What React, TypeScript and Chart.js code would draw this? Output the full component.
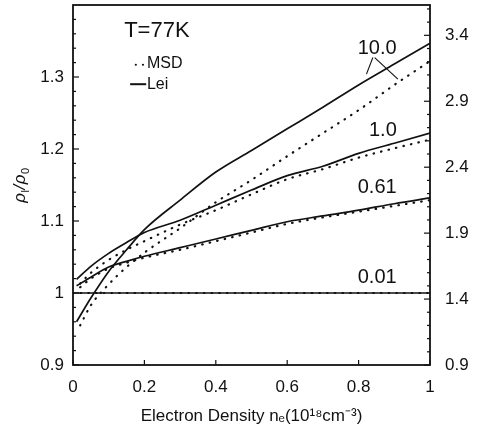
import React, { useEffect, useRef } from 'react';
import { Chart, registerables } from 'chart.js';

Chart.register(...registerables);

// ---- data ----
const X_LEI = [0.01, 0.05, 0.1, 0.15, 0.2, 0.3, 0.4, 0.5, 0.6, 0.7, 0.8, 0.9, 1.0];
const LEI_10 = [0.960, 0.993, 1.030, 1.060, 1.088, 1.129, 1.168, 1.198, 1.228, 1.258, 1.289, 1.318, 1.347];
const LEI_1 = [1.019, 1.037, 1.055, 1.070, 1.084, 1.101, 1.122, 1.143, 1.163, 1.176, 1.194, 1.208, 1.222];
const LEI_061 = [1.010, 1.022, 1.036, 1.044, 1.051, 1.063, 1.075, 1.087, 1.099, 1.107, 1.115, 1.124, 1.132];

const X_MSD = [0.02, 0.05, 0.1, 0.15, 0.2, 0.3, 0.4, 0.5, 0.6, 0.7, 0.8, 0.9, 1.0];
const MSD_10 = [0.955, 0.983, 1.012, 1.036, 1.056, 1.090, 1.126, 1.157, 1.190, 1.222, 1.254, 1.289, 1.322];
const MSD_1 = [1.013, 1.028, 1.046, 1.060, 1.072, 1.095, 1.115, 1.137, 1.158, 1.172, 1.188, 1.201, 1.213];
const MSD_061 = [1.008, 1.020, 1.034, 1.042, 1.049, 1.060, 1.072, 1.084, 1.096, 1.105, 1.113, 1.121, 1.129];

const X_FLAT = [0, 0.5, 1.0];
const LEI_001 = [1.0, 1.0, 1.0];
const MSD_001 = [1.0, 1.0, 1.0];

const X_TICKS = [0, 0.2, 0.4, 0.6, 0.8, 1];
const X_TICK_LABELS = ['0', '0.2', '0.4', '0.6', '0.8', '1'];
const Y_TICKS = [0.9, 1.0, 1.1, 1.2, 1.3];
const Y_TICK_LABELS = ['0.9', '1', '1.1', '1.2', '1.3'];
const Y2_TICKS = [0.9, 1.4, 1.9, 2.4, 2.9, 3.4];
const Y2_TICK_LABELS = ['0.9', '1.4', '1.9', '2.4', '2.9', '3.4'];

const CURVE_LABELS = ['10.0', '1.0', '0.61', '0.01'];
const TEMP_LABEL = 'T=77K';
const LEGEND_LABELS = ['MSD', 'Lei'];

const INK = '#111';
const FONT = '"Liberation Sans", Arial, Helvetica, sans-serif';

export default function App() {
  const ref = useRef<HTMLCanvasElement | null>(null);

  useEffect(() => {
    document.body.style.margin = '0';
    const canvas = ref.current;
    if (!canvas) return;

    const pts = (xs: number[], ys: number[]) => xs.map((x, i) => ({ x, y: ys[i] }));
    const solid = (label: string, xs: number[], ys: number[]) => ({
      label,
      data: pts(xs, ys),
      borderColor: INK,
      borderWidth: 1.7,
      pointRadius: 0,
      fill: false,
      cubicInterpolationMode: 'monotone' as const,
      yAxisID: 'y',
    });
    const dotted = (label: string, xs: number[], ys: number[]) => ({
      label,
      data: pts(xs, ys),
      borderColor: INK,
      borderWidth: 2.2,
      borderDash: [0.5, 7.2],
      borderCapStyle: 'round' as const,
      pointRadius: 0,
      fill: false,
      cubicInterpolationMode: 'monotone' as const,
      yAxisID: 'y',
    });

    const decor = {
      id: 'decor',
      afterDraw(chart: any) {
        const { ctx, chartArea: a, scales } = chart;
        const sx = scales.x, sy = scales.y, sy2 = scales.y2;
        const px = (v: number) => sx.getPixelForValue(v);
        const py = (v: number) => sy.getPixelForValue(v);
        ctx.save();
        ctx.strokeStyle = INK;
        ctx.fillStyle = INK;
        // frame
        ctx.lineWidth = 1.8;
        ctx.strokeRect(a.left, a.top, a.right - a.left, a.bottom - a.top);
        // inward ticks
        ctx.lineWidth = 1.2;
        const seg = (x1: number, y1: number, x2: number, y2: number) => {
          ctx.beginPath(); ctx.moveTo(x1, y1); ctx.lineTo(x2, y2); ctx.stroke();
        };
        for (let k = 0; k <= 25; k++) {
          const v = 0.9 + k * 0.02;
          const yy = py(v);
          if (yy < a.top + 1) continue;
          seg(a.left, yy, a.left + (k % 5 === 0 ? 6 : 3), yy);
        }
        for (let k = 0; k <= 27; k++) {
          const v = 0.9 + k * 0.1;
          const yy = sy2.getPixelForValue(v);
          if (yy < a.top + 1) continue;
          seg(a.right, yy, a.right - (k % 5 === 0 ? 6 : 3), yy);
        }
        X_TICKS.forEach((v) => {
          const xx = px(v);
          seg(xx, a.bottom, xx, a.bottom - 5);
        });

        // y-axis title with subscripts, rotated
        ctx.save();
        ctx.translate(20, (a.top + a.bottom) / 2);
        ctx.rotate(-Math.PI / 2);
        ctx.textBaseline = 'alphabetic';
        ctx.textAlign = 'left';
        const big = `italic 17px ${FONT}`;
        const small = `11px ${FONT}`;
        const parts: [string, string, number][] = [
          ['ρ', big, 0], ['l', small, 4], ['/', big, 0], ['ρ', big, 0], ['0', small, 4],
        ];
        let total = 0;
        parts.forEach(([t, f]) => { ctx.font = f; total += ctx.measureText(t).width + 0.5; });
        let cx = -total / 2;
        parts.forEach(([t, f, dy]) => {
          ctx.font = f;
          ctx.fillText(t, cx, 5 + dy);
          cx += ctx.measureText(t).width + 0.5;
        });
        ctx.restore();

        // temperature + legend
        ctx.textBaseline = 'middle';
        ctx.textAlign = 'center';
        ctx.font = `22px ${FONT}`;
        ctx.fillText(TEMP_LABEL, px(0.235), py(1.364));
        ctx.font = `16px ${FONT}`;
        ctx.textAlign = 'left';
        ctx.fillText(LEGEND_LABELS[0], px(0.207), py(1.318));
        ctx.fillText(LEGEND_LABELS[1], px(0.207), py(1.290));
        // legend samples
        ctx.beginPath();
        ctx.arc(px(0.176), py(1.317), 1.1, 0, Math.PI * 2);
        ctx.arc(px(0.196), py(1.317), 1.1, 0, Math.PI * 2);
        ctx.fill();
        ctx.lineWidth = 2;
        seg(px(0.160), py(1.290), px(0.205), py(1.290));

        // curve labels
        ctx.font = `20px ${FONT}`;
        ctx.textAlign = 'center';
        ctx.fillText(CURVE_LABELS[0], px(0.852), py(1.340));
        ctx.fillText(CURVE_LABELS[1], px(0.868), py(1.226));
        ctx.fillText(CURVE_LABELS[2], px(0.852), py(1.147));
        ctx.fillText(CURVE_LABELS[3], px(0.852), py(1.022));
        // leader lines for 10.0
        ctx.lineWidth = 1.1;
        seg(px(0.840), py(1.327), px(0.822), py(1.304));
        seg(px(0.845), py(1.327), px(0.910), py(1.297));
        ctx.restore();
      },
    };

    const tickFont = { family: FONT, size: 17 };
    const chart = new Chart(canvas, {
      type: 'line',
      data: {
        datasets: [
          solid('Lei 10.0', X_LEI, LEI_10),
          dotted('MSD 10.0', X_MSD, MSD_10),
          solid('Lei 1.0', X_LEI, LEI_1),
          dotted('MSD 1.0', X_MSD, MSD_1),
          solid('Lei 0.61', X_LEI, LEI_061),
          dotted('MSD 0.61', X_MSD, MSD_061),
          solid('Lei 0.01', X_FLAT, LEI_001),
          dotted('MSD 0.01', X_FLAT, MSD_001),
        ] as any,
      },
      options: {
        animation: false,
        responsive: false,
        maintainAspectRatio: false,
        layout: { padding: { top: 5, left: 0, right: 0, bottom: 0 } },
        plugins: { legend: { display: false }, tooltip: { enabled: false } },
        scales: {
          x: {
            type: 'linear',
            min: 0,
            max: 1,
            grid: { display: false, drawTicks: false },
            border: { display: false },
            afterBuildTicks: (s: any) => { s.ticks = X_TICKS.map((value) => ({ value })); },
            ticks: {
              color: INK,
              font: tickFont,
              padding: 12,
              maxRotation: 0,
              autoSkip: false,
              callback: (_v: any, i: number) => X_TICK_LABELS[i],
            },
            title: {
              display: true,
              text: 'Electron Density nₑ(10¹⁸cm⁻³)',
              color: INK,
              font: { family: FONT, size: 17 },
              padding: { top: 0, bottom: 7 },
            },
            afterFit: (s: any) => { s.height = 69; s.paddingLeft = 0; s.paddingRight = 0; },
          },
          y: {
            type: 'linear',
            position: 'left',
            min: 0.9,
            max: 1.4,
            grid: { display: false, drawTicks: false },
            border: { display: false },
            afterBuildTicks: (s: any) => { s.ticks = Y_TICKS.map((value) => ({ value })); },
            ticks: {
              color: INK,
              font: tickFont,
              padding: 9,
              autoSkip: false,
              callback: (_v: any, i: number) => Y_TICK_LABELS[i],
            },
            afterFit: (s: any) => { s.width = 73; s.paddingTop = 0; s.paddingBottom = 0; },
          },
          y2: {
            type: 'linear',
            position: 'right',
            min: 0.9,
            max: 3.63,
            grid: { display: false, drawTicks: false },
            border: { display: false },
            afterBuildTicks: (s: any) => { s.ticks = Y2_TICKS.map((value) => ({ value })); },
            ticks: {
              color: INK,
              font: tickFont,
              padding: 15,
              autoSkip: false,
              callback: (_v: any, i: number) => Y2_TICK_LABELS[i],
            },
            afterFit: (s: any) => { s.width = 50; s.paddingTop = 0; s.paddingBottom = 0; },
          },
        },
      } as any,
      plugins: [decor],
    });
    return () => chart.destroy();
  }, []);

  return (
    <div style={{ width: 480, height: 434, background: '#fff' }}>
      <canvas ref={ref} width={480} height={434} style={{ display: 'block' }} />
    </div>
  );
}
